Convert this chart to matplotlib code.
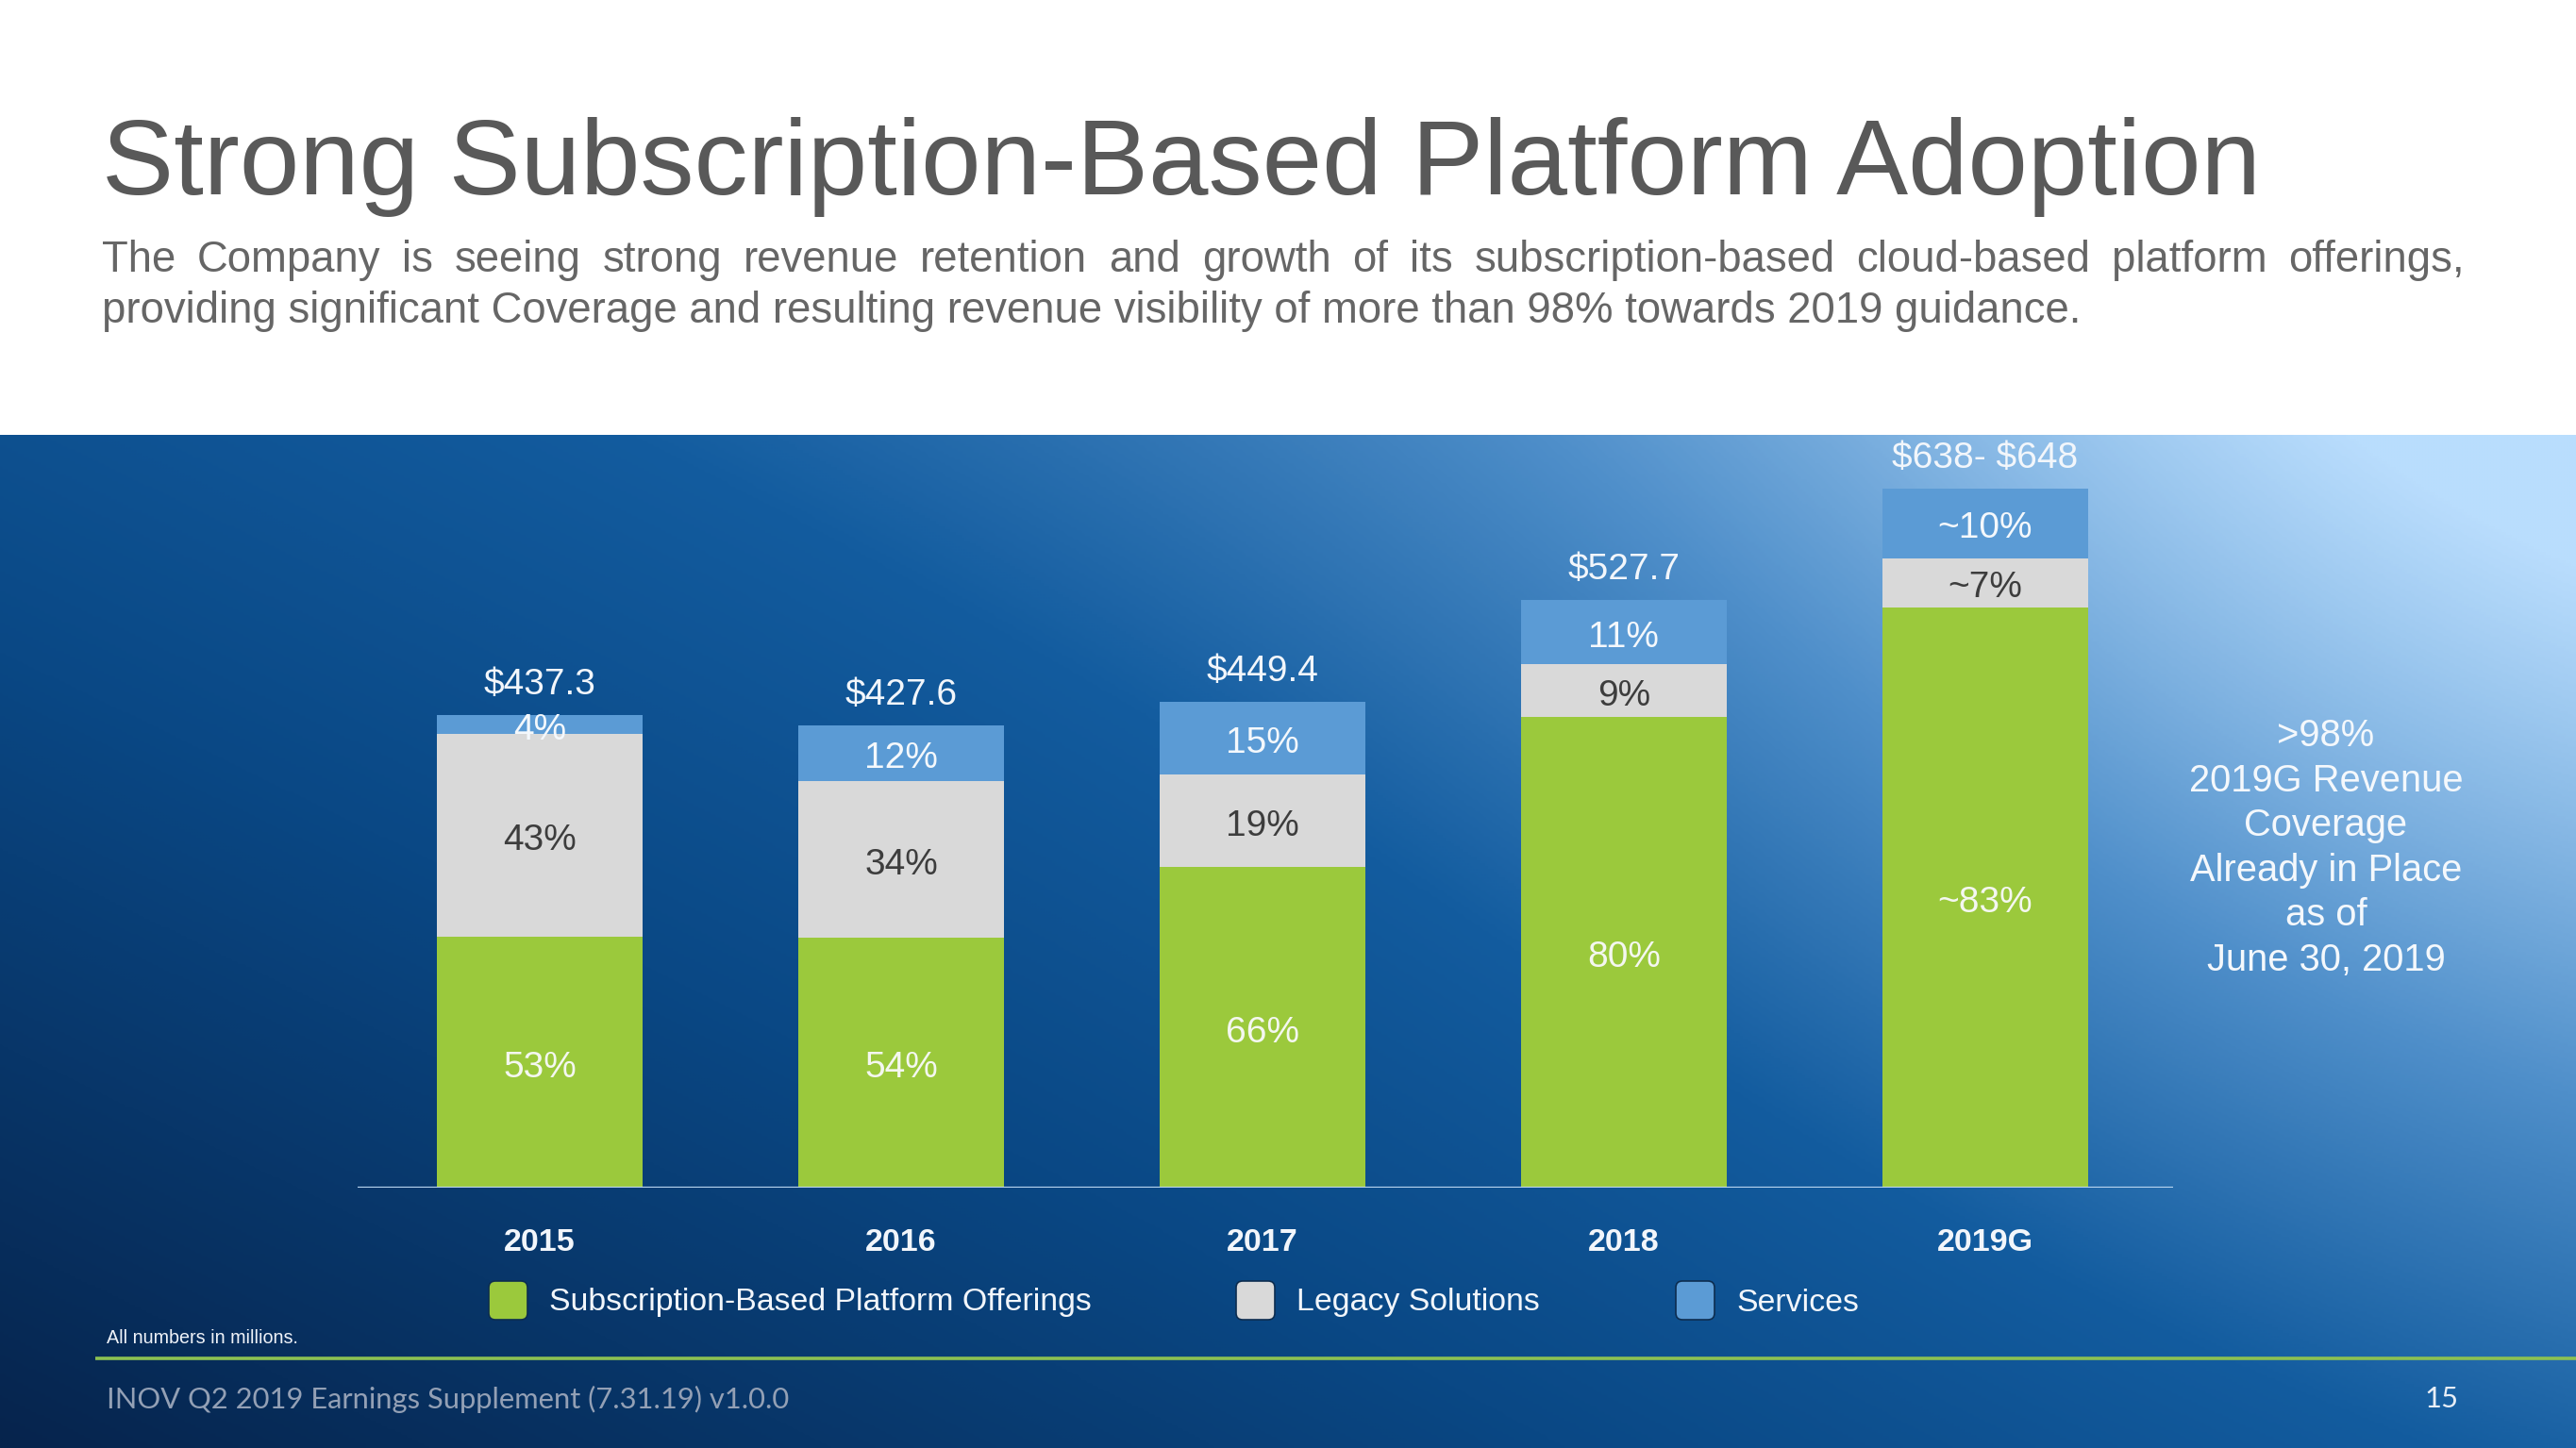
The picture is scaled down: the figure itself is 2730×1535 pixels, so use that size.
import numpy as np
import matplotlib
matplotlib.use('Agg')
import matplotlib.pyplot as plt
from matplotlib.colors import LinearSegmentedColormap
from matplotlib.patches import FancyBboxPatch

plt.rcParams['font.family'] = ['Liberation Sans', 'DejaVu Sans']

# ---------------- data ----------------
years = ['2015', '2016', '2017', '2018', '2019G']
bar_totals = [437.3, 427.6, 449.4, 544.0, 647.0]          # drawn bar heights ($M)
total_labels = ['$437.3', '$427.6', '$449.4', '$527.7', '$638- $648']
subscription_pct = [53, 54, 66, 80, 83]
legacy_pct = [43, 34, 19, 9, 7]
services_pct = [4, 12, 15, 11, 10]
subscription_labels = ['53%', '54%', '66%', '80%', '~83%']
legacy_labels = ['43%', '34%', '19%', '9%', '~7%']
services_labels = ['4%', '12%', '15%', '11%', '~10%']
series_names = ['Subscription-Based Platform Offerings', 'Legacy Solutions', 'Services']
series_colors = ['#9bc93c', '#d9d9d9', '#5b9bd5']
label_colors = ['#f4f7f0', '#3d3d3d', '#f4f8fc']

title = 'Strong Subscription-Based Platform Adoption'
subtitle_1 = ('The Company is seeing strong revenue retention and growth of its '
              'subscription-based cloud-based platform offerings,')
subtitle_2 = ('providing significant Coverage and resulting revenue visibility of '
              'more than 98% towards 2019 guidance.')
side_note = '>98%\n2019G Revenue\nCoverage\nAlready in Place\nas of\nJune 30, 2019'
footnote = 'All numbers in millions.'
footer = 'INOV Q2 2019 Earnings Supplement (7.31.19) v1.0.0'
page_no = '15'

# ---------------- figure / background ----------------
W, H = 2730, 1535
fig = plt.figure(figsize=(W / 100, H / 100), dpi=100, facecolor='white')
bg = fig.add_axes([0, 0, 1, 1])
bg.set_xlim(0, W)
bg.set_ylim(H, 0)
bg.axis('off')

PANEL_TOP = 461
ph = H - PANEL_TOP
gy, gx = np.mgrid[0:ph // 3, 0:W // 3]
u = gx / (W // 3 - 1)
v = 1 - gy / (ph // 3 - 1)
t = 0.55 * u + 0.45 * v
glow = np.exp(-(((1 - u) / 0.35) ** 2) - (((1 - v) / 0.9) ** 2))
t = np.clip(0.85 * t + 0.2 * glow, 0, 1)
cmap = LinearSegmentedColormap.from_list(
    'bg', [(0.0, '#06244d'), (0.3, '#0a4885'), (0.5, '#135c9f'),
           (0.72, '#4f8fca'), (1.0, '#b9ddfd')])
bg.imshow(cmap(t), extent=(0, W, H, PANEL_TOP), origin='upper', aspect='auto',
          interpolation='bilinear', zorder=0)

# ---------------- chart axes ----------------
BASE_Y = 1259
X0, X1 = 379, 2303
ax = fig.add_axes([X0 / W, (H - BASE_Y) / H, (X1 - X0) / W, (BASE_Y - PANEL_TOP) / H])
ax.patch.set_alpha(0)
px_per_unit = 501 / 437.3
ax.set_ylim(0, (BASE_Y - PANEL_TOP) / px_per_unit)
ax.set_xlim(-0.504, 4.52)
for s in ax.spines.values():
    s.set_visible(False)
ax.set_xticks([])
ax.set_yticks([])

x = np.arange(len(years))
totals = np.array(bar_totals)
segs = [totals * np.array(p) / 100 for p in (subscription_pct, legacy_pct, services_pct)]
seg_labels = [subscription_labels, legacy_labels, services_labels]
bottom = np.zeros(len(years))
for vals, col, labs, lc in zip(segs, series_colors, seg_labels, label_colors):
    ax.bar(x, vals, bottom=bottom, width=0.57, color=col, zorder=2, linewidth=0)
    for xi, b, h, lab in zip(x, bottom, vals, labs):
        ax.annotate(lab, (xi, b + h / 2), xytext=(0, -4), textcoords='offset points',
                    ha='center', va='center', fontsize=28, color=lc, zorder=4,
                    parse_math=False)
    bottom = bottom + vals

for xi, tot, lab in zip(x, totals, total_labels):
    ax.annotate(lab, (xi, tot), xytext=(0, 23), textcoords='offset points',
                ha='center', va='center', fontsize=28, color='#f2f6fb', zorder=4,
                parse_math=False)

ax.axhline(0, color='#b9d5f0', lw=2.3, zorder=3)

for xi, yr in zip(x, years):
    ax.text(xi, -58 / (BASE_Y - PANEL_TOP), yr, transform=ax.get_xaxis_transform(),
            ha='center', va='center', fontsize=24.5, fontweight='bold', color='#f2f6fb')

# ---------------- legend ----------------
sq_x = [518, 1310, 1776]
for name, col, sx in zip(series_names, series_colors, sq_x):
    bg.add_patch(FancyBboxPatch((sx, 1358), 41, 41,
                                boxstyle='round,pad=0,rounding_size=7',
                                facecolor=col, edgecolor='#0d2d50', lw=1.2, zorder=3))
    bg.text(sx + 64, 1381, name, ha='left', va='center', fontsize=24.4,
            color='#f2f6fb', zorder=3)

# ---------------- texts ----------------
fig.canvas.draw()
rend = fig.canvas.get_renderer()


def fit(txt, target_w):
    w = txt.get_window_extent(renderer=rend).width
    txt.set_fontsize(txt.get_fontsize() * target_w / w)
    return txt


t_title = bg.text(108, 206, title, fontsize=85, color='#595959', va='baseline')
fit(t_title, 2287)

sub_color = '#666666'
t_sub2 = bg.text(108, 342, subtitle_2, fontsize=30, color=sub_color, va='baseline')
fit(t_sub2, 2094)
sub_fs = t_sub2.get_fontsize()

words = subtitle_1.split()
wtexts = [bg.text(0, 288, w_, fontsize=sub_fs, color=sub_color, va='baseline') for w_ in words]
widths = [tt.get_window_extent(renderer=rend).width for tt in wtexts]
gap = (2612 - 108 - sum(widths)) / (len(words) - 1)
cx = 108
for tt, wd in zip(wtexts, widths):
    tt.set_x(cx)
    cx += wd + gap

bg.text(2465, 899, side_note, ha='center', va='center', multialignment='center',
        fontsize=28.7, linespacing=1.32, color='#f4f8fc', zorder=3)

t_fn = bg.text(113, 1419, footnote, ha='left', va='center', fontsize=12,
               color='#eef2f8', zorder=3)
fit(t_fn, 202)

bg.plot([101, W], [1440, 1440], color='#8cc152', lw=2.6, zorder=3,
        solid_capstyle='butt')

t_ft = bg.text(113, 1483, footer, ha='left', va='center', fontsize=22,
               color='#93a0b5', family=['Lato', 'DejaVu Sans'], zorder=3)
fit(t_ft, 722)
bg.text(2587, 1483, page_no, ha='center', va='center', fontsize=t_ft.get_fontsize(),
        color='#e8eef6', family=['Lato', 'DejaVu Sans'], zorder=3)

fig.savefig('out.png', dpi=100, facecolor='white')
